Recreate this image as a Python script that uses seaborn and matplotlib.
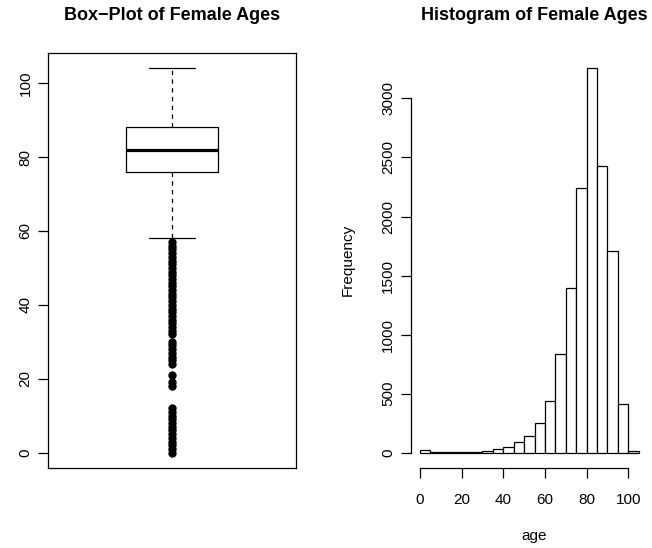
import matplotlib
matplotlib.use("Agg")
import matplotlib.pyplot as plt
import seaborn as sns

# Box-plot summary of female ages
age_median = 82
age_q1 = 76
age_q3 = 88
age_whisker_low = 58
age_whisker_high = 104
age_outliers = [0, 1, 2, 3, 4, 5, 6, 7, 8, 9, 10, 11, 12, 18, 19, 21,
                24, 25, 26, 27, 28, 29, 30, 32, 33, 34, 35, 36, 37, 38, 39,
                40, 41, 42, 43, 44, 45, 46, 47, 48, 49, 50, 51, 52, 53, 54,
                55, 56, 57]

# Histogram of female ages (5-year bins)
bin_edges = [0, 5, 10, 15, 20, 25, 30, 35, 40, 45, 50, 55, 60, 65, 70, 75,
             80, 85, 90, 95, 100, 105]
bin_counts = [20, 8, 3, 4, 5, 8, 12, 28, 51, 88, 142, 249, 439, 835, 1392,
              2244, 3255, 2428, 1710, 413, 14]

box_yticks = [0, 20, 40, 60, 80, 100]
hist_yticks = [0, 500, 1000, 1500, 2000, 2500, 3000]
hist_xticks = [0, 20, 40, 60, 80, 100]

sns.set_style("white")
plt.rcParams["font.family"] = ["Liberation Sans", "DejaVu Sans"]
plt.rcParams["axes.linewidth"] = 0.9
plt.rcParams["text.color"] = "black"
plt.rcParams["axes.labelcolor"] = "black"
plt.rcParams["xtick.color"] = "black"
plt.rcParams["ytick.color"] = "black"

W, H = 652, 548
fig = plt.figure(figsize=(W / 100, H / 100), dpi=100)

def px_axes(x0, y0, w, h):
    return fig.add_axes([x0 / W, 1 - (y0 + h) / H, w / W, h / H])

LW = 0.9
FS = 11

# ---- left: box plot ----
ax1 = px_axes(48, 53, 247.5, 415)
stats = [{"med": age_median, "q1": age_q1, "q3": age_q3,
          "whislo": age_whisker_low, "whishi": age_whisker_high,
          "fliers": age_outliers}]
ax1.bxp(stats, positions=[1], widths=0.4, capwidths=0.2, showfliers=True,
        boxprops=dict(color="black", linewidth=LW),
        medianprops=dict(color="black", linewidth=2.3, solid_capstyle="butt"),
        whiskerprops=dict(color="black", linewidth=LW, linestyle=(0, (3.5, 3.5))),
        capprops=dict(color="black", linewidth=LW),
        flierprops=dict(marker="o", markersize=5, markerfacecolor="black",
                        markeredgecolor="black", linestyle="none"))
ax1.set_xlim(0.46, 1.54)
ax1.set_ylim(-4.16, 108.16)
ax1.set_xticks([])
ax1.set_yticks(box_yticks)
ax1.set_yticklabels([str(v) for v in box_yticks], rotation=90, va="center",
                    fontsize=FS)
ax1.tick_params(axis="y", direction="out", length=7.2, width=LW, pad=4.0,
                left=True, colors="black")
for sp in ax1.spines.values():
    sp.set_color("black")
    sp.set_linewidth(LW)
ax1.set_facecolor("white")

# ---- right: histogram ----
ax2 = px_axes(410.8, 53, 247.5, 415)
mids = [(a + b) / 2 for a, b in zip(bin_edges[:-1], bin_edges[1:])]
sns.histplot(x=mids, weights=bin_counts, bins=bin_edges, ax=ax2,
             color="white", edgecolor="black", linewidth=LW, alpha=1)
ax2.set_xlim(-4.4, 114.4)
ax2.set_ylim(-130.2, 3385.2)
ax2.set_xticks(hist_xticks)
ax2.set_xticklabels([str(v) for v in hist_xticks], fontsize=FS)
ax2.set_yticks(hist_yticks)
ax2.set_yticklabels([str(v) for v in hist_yticks], rotation=90, va="center",
                    fontsize=FS)
ax2.tick_params(axis="y", direction="out", length=7.2, width=LW, pad=4.0,
                left=True, colors="black")
ax2.tick_params(axis="x", direction="out", length=7.2, width=LW, pad=11,
                bottom=True, colors="black")
ax2.set_xlabel("")
ax2.set_ylabel("")
ax2.spines["top"].set_visible(False)
ax2.spines["right"].set_visible(False)
ax2.spines["left"].set_bounds(0, 3000)
ax2.spines["bottom"].set_bounds(0, 100)
for sp in ("left", "bottom"):
    ax2.spines[sp].set_color("black")
    ax2.spines[sp].set_linewidth(LW)

# titles and axis labels
fig.text(172 / W, 1 - 15.7 / H, "Box\u2212Plot of Female Ages", ha="center",
         va="center", fontsize=13, fontweight="bold")
fig.text(534.5 / W, 1 - 15.7 / H, "Histogram of Female Ages", ha="center",
         va="center", fontsize=13, fontweight="bold")
fig.text(348 / W, 1 - 260 / H, "Frequency", ha="center", va="center",
         rotation=90, fontsize=FS)
fig.text(534.5 / W, 1 - 536 / H, "age", ha="center", va="center", fontsize=FS)

fig.savefig("out.png", dpi=100, facecolor="white")
